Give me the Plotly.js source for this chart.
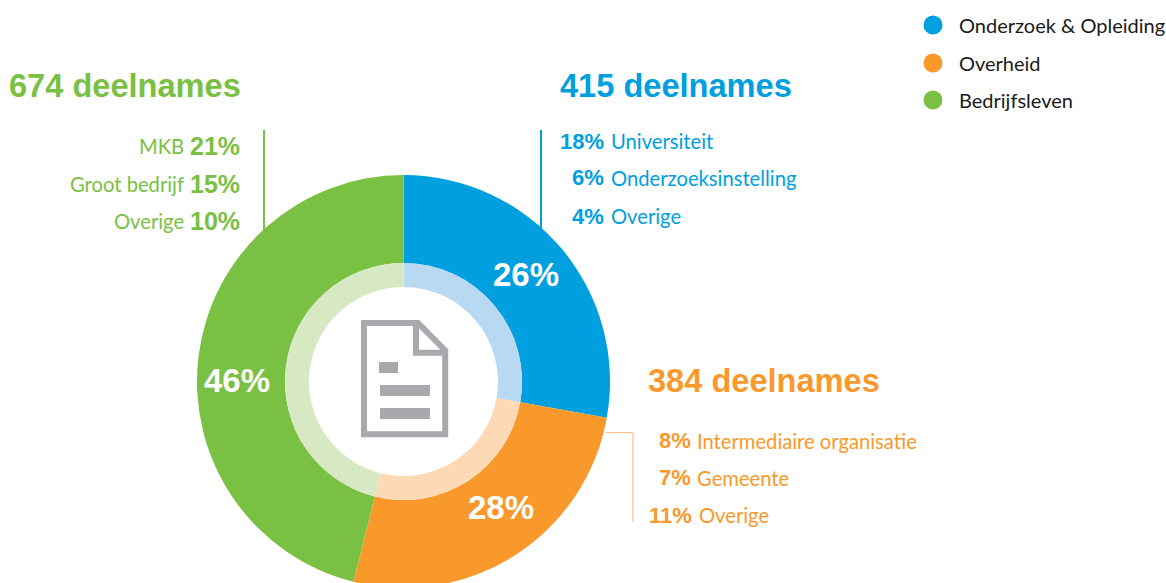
<!DOCTYPE html>
<html><head><meta charset="utf-8">
<script src="https://cdn.plot.ly/plotly-3.0.1.min.js"></script>
<style>html,body{margin:0;padding:0;background:#fff;overflow:hidden;width:1166px;height:583px}#c{width:1166px;height:640px}</style>
</head><body><div id="c"></div>
<script>
const categories = ['Onderzoek & Opleiding', 'Overheid', 'Bedrijfsleven'];
const sliceShares = [27.8, 26.1, 46.1];
const sliceLabels = ['26%', '28%', '46%'];
const solidColors = ['#009FDF', '#F9992B', '#7AC143'];
const paleColors = ['#B7D9F2', '#FDDAB5', '#D7E9C3'];
const headings = ['415 deelnames', '384 deelnames', '674 deelnames'];
const blueShares = ['18%', '6%', '4%'];
const blueNames = ['Universiteit', 'Onderzoeksinstelling', 'Overige'];
const orangeShares = ['8%', '7%', '11%'];
const orangeNames = ['Intermediaire organisatie', 'Gemeente', 'Overige'];
const greenShares = ['21%', '15%', '10%'];
const greenNames = ['MKB', 'Groot bedrijf', 'Overige'];

const W = 1166, H = 640, CX = 403.5, CY = 381.5, R = 206.5, R2 = 118.5, R3 = 94.5;
const LIGHT = 'Lato, "Liberation Sans", sans-serif';
const BOLD = '"Liberation Sans", sans-serif';
const px = x => x / W, py = y => 1 - y / H;
const dom = r => ({x: [px(CX - r), px(CX + r)], y: [py(CY + r), py(CY - r)]});
const pie = (r, hole, colors) => ({
  type: 'pie', values: sliceShares, labels: categories, sort: false, direction: 'clockwise',
  rotation: 0, hole: hole, domain: dom(r), textinfo: 'none', hoverinfo: 'label',
  marker: {colors: colors, line: {width: 0}}, showlegend: false
});
const traces = [pie(R, R2 / R, solidColors), pie(R2, R3 / R2, paleColors)];

const ann = (x, y, text, color, size, family, anchor) => ({
  xref: 'paper', yref: 'paper', x: px(x), y: py(y), text: text, showarrow: false,
  xanchor: anchor, yanchor: 'middle', borderpad: 0, borderwidth: 0,
  font: {color: color, size: size, family: family}
});
const annotations = [];
const HEAD = 32.6, ROW = 20.2, SHARE = 22, SHARE_GREEN = 25, LEG = 20, PCT = 33;
annotations.push(ann(560, 85, '<b>' + headings[0] + '</b>', solidColors[0], HEAD, BOLD, 'left'));
annotations.push(ann(648, 380, '<b>' + headings[1] + '</b>', solidColors[1], HEAD, BOLD, 'left'));
annotations.push(ann(9, 85, '<b>' + headings[2] + '</b>', solidColors[2], HEAD, BOLD, 'left'));
[141, 178, 216].forEach((y, i) => {
  annotations.push(ann(604, y, '<b>' + blueShares[i] + '</b>', solidColors[0], SHARE, BOLD, 'right'));
  annotations.push(ann(611, y, blueNames[i], solidColors[0], ROW, LIGHT, 'left'));
});
[440.5, 477.5, 515].forEach((y, i) => {
  annotations.push(ann(i === 2 ? 692 : 691, y, '<b>' + orangeShares[i] + '</b>', solidColors[1], SHARE, BOLD, 'right'));
  annotations.push(ann(i === 2 ? 699 : 697, y, orangeNames[i], solidColors[1], ROW, LIGHT, 'left'));
});
[146, 183.5, 221].forEach((y, i) => {
  annotations.push(ann(184, y, greenNames[i], solidColors[2], ROW, LIGHT, 'right'));
  annotations.push(ann(240, y, '<b>' + greenShares[i] + '</b>', solidColors[2], SHARE_GREEN, BOLD, 'right'));
});
[[526, 274], [501, 507], [237, 380]].forEach((p, i) => {
  annotations.push(ann(p[0], p[1], '<b>' + sliceLabels[i] + '</b>', '#fff', PCT, BOLD, 'center'));
});
[25, 63, 100].forEach((y, i) => {
  annotations.push(ann(959, y, categories[i], '#1a1a1a', LEG, LIGHT, 'left'));
});

const line = (d, color, w) => ({
  type: 'path', xref: 'paper', yref: 'paper', layer: 'above',
  path: d.map(p => (p[2] || 'L') + ' ' + px(p[0]) + ' ' + py(p[1])).join(' '),
  line: {color: color, width: w}
});
const rect = (x0, y0, x1, y1, c) => ({
  type: 'rect', xref: 'paper', yref: 'paper', layer: 'above', x0: px(x0), x1: px(x1), y0: py(y0), y1: py(y1),
  fillcolor: c, line: {width: 0}
});
const GREY = '#A7A9AC';
const shapes = [
  line([[264, 130, 'M'], [264, 232]], solidColors[2], 2),
  line([[541, 130, 'M'], [541, 231]], solidColors[0], 2),
  line([[606, 432.5, 'M'], [633, 432.5], [633, 522]], '#FBC083', 1.2),
  line([[364, 323, 'M'], [418, 323], [445.2, 350.5], [445.2, 434.3], [364, 434.3], [364, 320]], GREY, 6),
  line([[416, 323, 'M'], [416, 352.8], [445.2, 352.8]], GREY, 6),
  rect(379, 362, 398, 373, GREY),
  rect(380, 385, 430, 396, GREY),
  rect(380, 408, 430, 419, GREY)
];
[25, 63, 100].forEach((y, i) => {
  shapes.push({type: 'circle', xref: 'paper', yref: 'paper', x0: px(923.5), x1: px(942.5), y0: py(y + 9.5), y1: py(y - 9.5),
    fillcolor: solidColors[i], line: {width: 0}});
});

Plotly.newPlot('c', traces, {
  width: W, height: H, margin: {l: 0, r: 0, t: 0, b: 0}, paper_bgcolor: '#fff',
  showlegend: false, annotations: annotations, shapes: shapes
}, {displayModeBar: false});
</script></body></html>
